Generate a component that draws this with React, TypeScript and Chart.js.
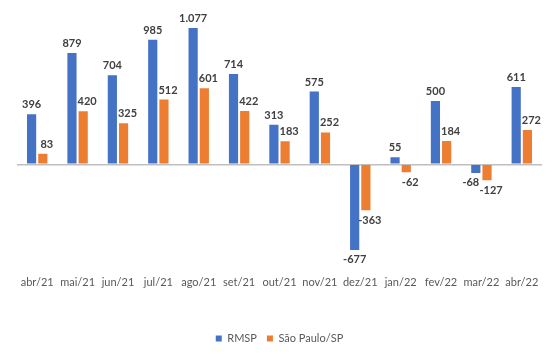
import React, { useEffect, useRef } from "react";
import { Chart, registerables } from "chart.js";

Chart.register(...registerables);

const categories = ["abr/21", "mai/21", "jun/21", "jul/21", "ago/21", "set/21", "out/21", "nov/21", "dez/21", "jan/22", "fev/22", "mar/22", "abr/22"];
const rmsp = [396, 879, 704, 985, 1077, 714, 313, 575, -677, 55, 500, -68, 611];
const saoPaulo = [83, 420, 325, 512, 601, 422, 183, 252, -363, -62, 184, -127, 272];
const seriesNames = ["RMSP", "São Paulo/SP"];

const fmt = (v: number) => {
  const s = Math.abs(v).toString().replace(/\B(?=(\d{3})+(?!\d))/g, ".");
  return (v < 0 ? "-" : "") + s;
};

const labelPlugin = {
  id: "barLabels",
  afterDatasetsDraw(chart: any) {
    const ctx = chart.ctx;
    ctx.save();
    ctx.font = "bold 11px Lato";
    ctx.fillStyle = "#404040";
    ctx.textAlign = "center";
    ctx.textBaseline = "middle";
    const shifts = [0, 4];
    const pos = (di: number, i: number) => {
      const bar: any = chart.getDatasetMeta(di).data[i];
      const v = chart.data.datasets[di].data[i] as number;
      return { x: bar.x, y: v >= 0 ? bar.y - 9.5 : bar.y + 10, v };
    };
    chart.data.datasets.forEach((ds: any, di: number) => {
      ds.data.forEach((_: any, i: number) => {
        const p = pos(di, i);
        let dx = shifts[di];
        if (di === 0 && p.v < 0) {
          const o = pos(1, i);
          if (o.v < 0 && Math.abs(o.y - p.y) < 16) dx = -5;
        }
        ctx.fillText(fmt(p.v), p.x + dx, p.y);
      });
    });
    ctx.restore();
  },
};

export default function App() {
  const ref = useRef<HTMLCanvasElement>(null);
  useEffect(() => {
    document.body.style.margin = "0";
    const chart = new Chart(ref.current!, {
      type: "bar",
      data: {
        labels: categories,
        datasets: [
          { label: seriesNames[0], data: rmsp, backgroundColor: "#4472C4" },
          { label: seriesNames[1], data: saoPaulo, backgroundColor: "#ED7D31" },
        ],
      },
      options: {
        animation: false,
        responsive: false,
        maintainAspectRatio: false,
        datasets: { bar: { categoryPercentage: 0.555, barPercentage: 0.82 } } as any,
        layout: { padding: { left: 17, right: 7, top: 12.5, bottom: 0 } },
        scales: {
          x: {
            grid: { display: false, drawTicks: false },
            border: { display: false },
            ticks: { color: "#595959", font: { family: "Lato", size: 11 }, padding: 10.4, maxRotation: 0, autoSkip: false },
            afterFit: (s: any) => { s.height = 57.5; },
          },
          y: {
            min: -800,
            max: 1200,
            ticks: { display: false, stepSize: 200 },
            border: { display: false },
            grid: {
              drawTicks: false,
              color: (c: any) => (c.tick && c.tick.value === 0 ? "#BFBFBF" : "rgba(0,0,0,0)"),
              lineWidth: 1.5,
            },
          },
        },
        plugins: {
          legend: {
            position: "bottom",
            labels: { boxWidth: 6, boxHeight: 6, color: "#595959", font: { family: "Lato", size: 11 }, padding: 10 },
          },
          tooltip: { enabled: false },
        },
      },
      plugins: [labelPlugin],
    });
    return () => chart.destroy();
  }, []);
  return (
    <div style={{ width: 549, height: 354, background: "#fff" }}>
      <canvas ref={ref} width={549} height={354} style={{ display: "block" }} />
    </div>
  );
}
